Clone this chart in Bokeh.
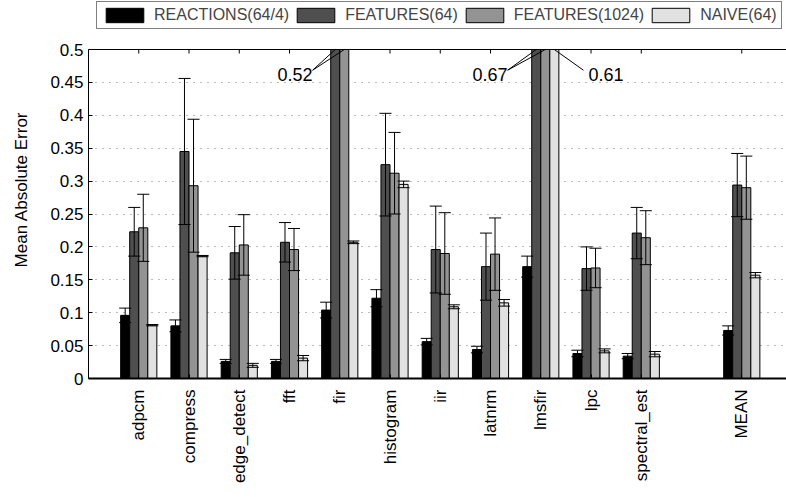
import math
from bokeh.plotting import figure
from bokeh.models import (Range1d, FixedTicker, Legend, LegendItem,
                          ColumnDataSource, Label, Span)
from bokeh.embed import file_html
from bokeh.resources import INLINE

# ---------------- data ----------------
categories = ["adpcm", "compress", "edge_detect", "fft", "fir", "histogram",
              "iir", "latnrm", "lmsfir", "lpc", "spectral_est", "MEAN"]
positions = [1, 2, 3, 4, 5, 6, 7, 8, 9, 10, 11, 13]

series_names = ["REACTIONS(64/4)", "FEATURES(64)", "FEATURES(1024)", "NAIVE(64)"]
series_colors = ["#000000", "#4f4f4f", "#939393", "#e1e1e1"]

reactions = [0.096, 0.080, 0.026, 0.026, 0.104, 0.122, 0.056, 0.044, 0.170, 0.038, 0.034, 0.073]
reactions_err = [0.011, 0.009, 0.003, 0.003, 0.012, 0.013, 0.005, 0.005, 0.016, 0.005, 0.004, 0.007]
features64 = [0.223, 0.345, 0.191, 0.207, 0.52, 0.325, 0.196, 0.170, 0.67, 0.167, 0.221, 0.294]
features64_err = [0.037, 0.111, 0.040, 0.030, 0.01, 0.078, 0.066, 0.051, 0.01, 0.033, 0.039, 0.048]
features1024 = [0.229, 0.293, 0.203, 0.196, 0.52, 0.312, 0.190, 0.189, 0.67, 0.168, 0.214, 0.290]
features1024_err = [0.051, 0.101, 0.046, 0.032, 0.01, 0.062, 0.062, 0.055, 0.01, 0.030, 0.041, 0.048]
naive = [0.081, 0.186, 0.020, 0.031, 0.207, 0.295, 0.109, 0.115, 0.61, 0.042, 0.037, 0.157]
naive_err = [0.001, 0.001, 0.003, 0.004, 0.002, 0.005, 0.003, 0.005, 0.01, 0.003, 0.004, 0.004]

y_ticks = [0, 0.05, 0.1, 0.15, 0.2, 0.25, 0.3, 0.35, 0.4, 0.45, 0.5]
y_tick_labels = ["0", "0.05", "0.1", "0.15", "0.2", "0.25", "0.3", "0.35", "0.4", "0.45", "0.5"]

# off-scale value annotations: (category, series indices, text)
annotations = [("fir", [1, 2], "0.52"), ("lmsfir", [1, 2], "0.67"), ("lmsfir", [3], "0.61")]

series_vals = [reactions, features64, features1024, naive]
series_errs = [reactions_err, features64_err, features1024_err, naive_err]

# ---------------- figure ----------------
FONT = "Liberation Sans"
BAR_W = 0.18
YMAX = 0.5                 # top of the axes box
PX_PER_UNIT = 658.0        # vertical scale (pixels per unit)
TOP_SPACE = 49             # room above the axes box, for the legend
Y_TOP = YMAX + TOP_SPACE / PX_PER_UNIT

p = figure(width=786, height=497, x_range=Range1d(0, 13.89), y_range=Range1d(0, Y_TOP),
           output_backend="svg", toolbar_location=None,
           min_border_left=88, min_border_right=0, min_border_top=0, min_border_bottom=119)
p.outline_line_color = None
p.background_fill_color = "white"
p.border_fill_color = "white"

p.xgrid.visible = False
p.ygrid.ticker = FixedTicker(ticks=y_ticks)
p.ygrid.grid_line_color = "#777777"
p.ygrid.grid_line_dash = "1 6"
p.ygrid.grid_line_width = 1

renderers = []
for s in range(4):
    xs = [pos + (s - 1.5) * BAR_W for pos in positions]
    tops = [min(v, YMAX) for v in series_vals[s]]   # bars are cut at the top of the box
    src = ColumnDataSource(dict(x=xs, top=tops))
    r = p.vbar(x="x", top="top", width=BAR_W, bottom=0, source=src,
               fill_color=series_colors[s], line_color="black", line_width=1)
    renderers.append(r)

# error bars (only for bars inside the box)
CAP = 0.12
for s in range(4):
    xs, lo, hi = [], [], []
    for pos, v, e in zip(positions, series_vals[s], series_errs[s]):
        if v < YMAX:
            xs.append(pos + (s - 1.5) * BAR_W)
            lo.append(v - e)
            hi.append(v + e)
    p.segment(x0=xs, y0=lo, x1=xs, y1=hi, line_color="black", line_width=1)
    p.segment(x0=[x - CAP for x in xs], y0=hi, x1=[x + CAP for x in xs], y1=hi,
              line_color="black", line_width=1)
    p.segment(x0=[x - CAP for x in xs], y0=lo, x1=[x + CAP for x in xs], y1=lo,
              line_color="black", line_width=1)

# top border of the box with inward ticks
p.add_layout(Span(location=YMAX, dimension="width", line_color="black", line_width=1))
p.ray(x=positions, y=[YMAX] * len(positions), length=4, length_units="screen",
      angle=-math.pi / 2, line_color="black", line_width=1)

# annotations of clipped bars (text placement relative to the group)
placement = {"0.52": (-0.54, "right", 0.0), "0.67": (-0.66, "right", 0.0),
             "0.61": (0.95, "left", -0.1)}
for cat, idxs, txt in annotations:
    gpos = positions[categories.index(cat)]
    dx, align, line_dx = placement[txt]
    tx, ty = gpos + dx, 0.4625
    p.add_layout(Label(x=tx, y=ty, text=txt, text_align=align, text_baseline="middle",
                       text_font=FONT, text_font_size="18px", text_color="black"))
    for si in idxs:
        bx = gpos + (si - 1.5) * BAR_W
        p.segment(x0=[tx + line_dx], y0=[ty + 0.006], x1=[bx], y1=[YMAX],
                  line_color="black", line_width=1)

# axes
xa = p.xaxis[0]
xa.ticker = FixedTicker(ticks=positions)
xa.major_label_overrides = {pos: c for pos, c in zip(positions, categories)}
xa.major_label_orientation = math.pi / 2
xa.major_label_text_font = FONT
xa.major_label_text_font_size = "17px"
xa.major_label_text_color = "black"
xa.major_label_standoff = 11
xa.major_tick_in = 4
xa.major_tick_out = 0
xa.minor_tick_line_color = None
xa.axis_line_width = 2
xa.axis_line_color = "black"

ya = p.yaxis[0]
ya.ticker = FixedTicker(ticks=y_ticks)
ya.bounds = (0, YMAX)
ya.major_label_overrides = {t: l for t, l in zip(y_ticks, y_tick_labels)}
ya.major_label_text_font = FONT
ya.major_label_text_font_size = "17px"
ya.major_label_text_color = "black"
ya.major_label_standoff = 5
ya.major_tick_in = 4
ya.major_tick_out = 0
ya.minor_tick_line_color = None
ya.axis_line_color = "black"
ya.axis_label = "Mean Absolute Error"
ya.axis_label_text_font = FONT
ya.axis_label_text_font_size = "17px"
ya.axis_label_text_font_style = "normal"
ya.axis_label_text_color = "black"
ya.axis_label_standoff = 16

legend = Legend(items=[LegendItem(label=n, renderers=[r]) for n, r in zip(series_names, renderers)],
                orientation="horizontal", location=(8, 349),
                glyph_width=47, glyph_height=18, label_height=18, label_standoff=6,
                spacing=3, padding=4, margin=0,
                border_line_color="black", border_line_width=1,
                label_text_font=FONT, label_text_font_size="16px",
                background_fill_color="white", background_fill_alpha=1)
p.add_layout(legend)

open("out.html", "w").write(file_html(p, INLINE))
